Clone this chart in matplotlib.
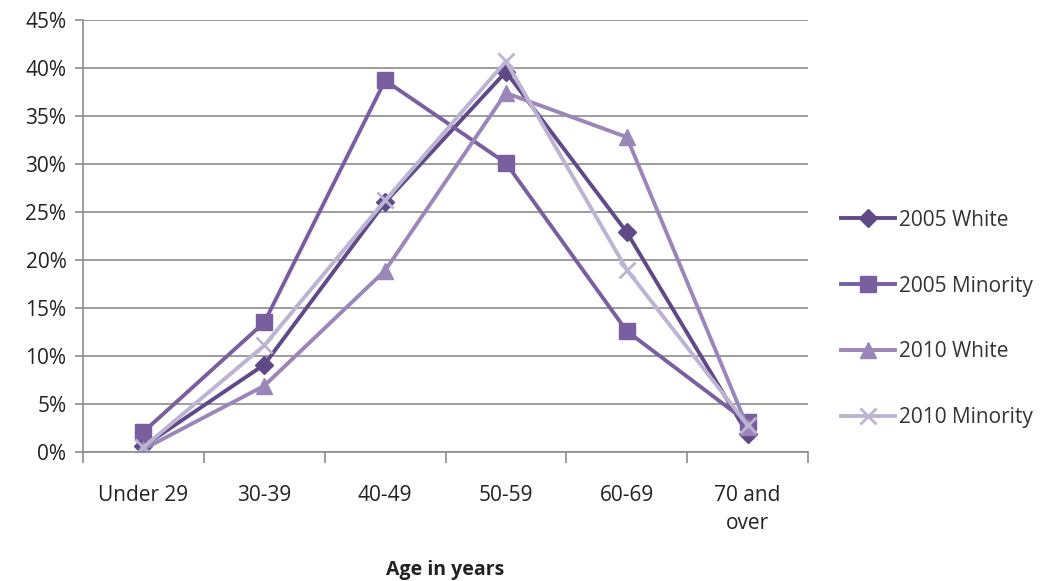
import matplotlib.pyplot as plt
import numpy as np

# Data
categories = ["Under 29", "30-39", "40-49", "50-59", "60-69", "70 and\nover"]
white_2005 = [0.6, 9.1, 26.0, 39.6, 22.9, 1.9]
minority_2005 = [2.1, 13.5, 38.7, 30.1, 12.6, 3.1]
white_2010 = [0.3, 6.9, 18.9, 37.4, 32.8, 2.6]
minority_2010 = [0.5, 11.1, 26.2, 40.7, 19.0, 2.8]

series = [
    ("2005 White", white_2005, "#5f4a87", "D", 9),
    ("2005 Minority", minority_2005, "#7a5fa0", "s", 11),
    ("2010 White", white_2010, "#9a86b9", "^", 11),
    ("2010 Minority", minority_2010, "#bdb3d2", "x", 11),
]

plt.rcParams['font.family'] = ['Open Sans', 'DejaVu Sans']

fig = plt.figure(figsize=(10.42, 5.81), dpi=100)
ax = fig.add_axes([0.0797, 0.222, 0.6957, 0.7436])

x = np.arange(len(categories))
for label, vals, color, marker, ms in series:
    ax.plot(x, vals, color=color, lw=2.8, marker=marker, ms=ms,
            mew=2 if marker == "x" else 1, mec=color, mfc=color, label=label)

ax.set_xlim(-0.5, len(categories) - 0.5)
ax.set_ylim(0, 45)
ax.set_yticks(np.arange(0, 46, 5))
ax.set_yticklabels([f"{v}%" for v in range(0, 46, 5)])
ax.yaxis.grid(True, color="#8c8c8c", lw=1.2)
ax.set_axisbelow(True)

ax.set_xticks(x)
ax.set_xticklabels(categories, linespacing=1.4)
ax.set_xticks(np.arange(-0.5, len(categories), 1), minor=True)
ax.tick_params(axis="x", which="major", length=0, pad=24)
ax.tick_params(axis="x", which="minor", length=8, color="#8c8c8c", width=1.2)
ax.tick_params(axis="y", length=6, color="#8c8c8c", width=1.2, pad=6)
ax.tick_params(labelsize=15, labelcolor="#222222")

for s in ["top", "right"]:
    ax.spines[s].set_visible(False)
for s in ["left", "bottom"]:
    ax.spines[s].set_color("#8c8c8c")
    ax.spines[s].set_linewidth(1.2)

ax.set_xlabel("Age in years", fontsize=14, fontweight="bold", color="#222222", labelpad=19)

fig.legend(loc="center left", bbox_to_anchor=(0.807, 0.451), frameon=False,
           fontsize=15, labelspacing=2.15, handlelength=2.6, handletextpad=0.2,
           borderpad=0, borderaxespad=0, labelcolor="#333333")

fig.savefig("out.png", dpi=100)
